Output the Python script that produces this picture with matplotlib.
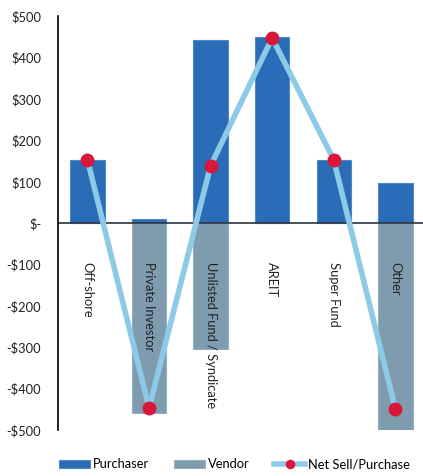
import matplotlib.pyplot as plt
import numpy as np

plt.rcParams['font.family'] = ['Lato', 'DejaVu Sans']

categories = ['Off-shore', 'Private Investor', 'Unlisted Fund / Syndicate',
              'AREIT', 'Super Fund', 'Other']
purchaser = [152, 10, 443, 449, 152, 98]
vendor = [0, -458, -303, 0, 0, -502]
net = [153, -447, 139, 448, 153, -448]

yticks = [500, 400, 300, 200, 100, 0, -100, -200, -300, -400, -500]
ytick_labels = ['$500', '$400', '$300', '$200', '$100', '$-',
                '-$100', '-$200', '-$300', '-$400', '-$500']

blue = '#2B6CB8'
grey = '#7F9BAE'
line_c = '#8DCAE8'
dot_c = '#D8173A'
fs = 9.3

fig = plt.figure(figsize=(4.23, 4.76), dpi=100)
ax = fig.add_axes([0.137, 0.0966, 0.863, 0.869])

x = np.arange(len(categories))
b1 = ax.bar(x, purchaser, width=0.56, color=blue, edgecolor='#4F87C8', linewidth=0.8,
            label='Purchaser', zorder=2)
b2 = ax.bar(x, vendor, width=0.56, color=grey, edgecolor='#97AEBE', linewidth=0.8,
            label='Vendor', zorder=2)
ln, = ax.plot(x, net, color=line_c, lw=4, marker='o', ms=9, mfc=dot_c, mec=dot_c,
              label='Net Sell/Purchase', zorder=3)

ax.axhline(0, color='#2a3440', lw=1.2, zorder=2.5)

ax.set_xlim(-0.48, 5.45)
ax.set_ylim(-500, 500)
ax.set_yticks(yticks)
ax.set_yticklabels(ytick_labels, fontsize=fs, color='#222222')
ax.tick_params(axis='y', length=0, pad=12)
ax.set_xticks([])
for s in ['top', 'right', 'bottom']:
    ax.spines[s].set_visible(False)
ax.spines['left'].set_color('black')
ax.spines['left'].set_linewidth(1.2)

for i, c in enumerate(categories):
    ax.text(i, -95, c, rotation=-90, ha='center', va='top', fontsize=fs,
            color='#222222', zorder=4)

ax.legend(handles=[b1, b2, ln], loc='lower left', bbox_to_anchor=(-0.012, -0.11),
          ncol=3, frameon=False, fontsize=fs, handlelength=2.4, handleheight=0.6,
          handletextpad=0.25, columnspacing=1.9, borderaxespad=0, markerscale=0.65)

fig.savefig('out.png', dpi=100)
